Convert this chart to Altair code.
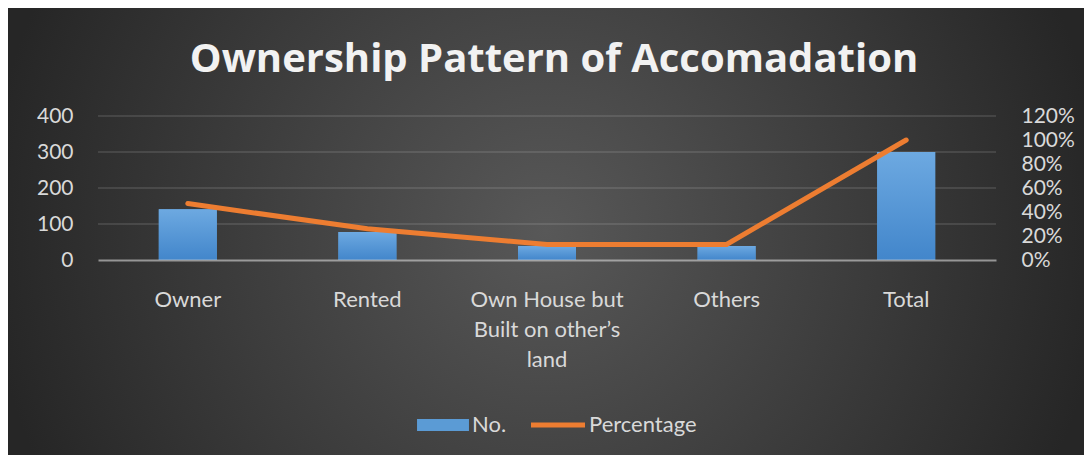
import altair as alt
import pandas as pd

categories = ["Owner", "Rented", "Own House but Built on other’s land", "Others", "Total"]
counts = [141, 78, 39, 39, 300]
percentages = [0.47, 0.26, 0.13, 0.13, 1.00]
count_ticks = [0, 100, 200, 300, 400]
grid_ticks = [100, 200, 300, 400]
pct_ticks = [0, 0.2, 0.4, 0.6, 0.8, 1.0, 1.2]
series_names = ["No.", "Percentage"]

df = pd.DataFrame({"category": categories, "count": counts, "pct": percentages})
df["bar_series"] = series_names[0]
df["line_series"] = series_names[1]
grid_df = pd.DataFrame({"v": grid_ticks})

W, H = 898, 144
PAD = {"left": 90, "top": 108, "right": 88, "bottom": 195}

LABEL = "#d9d9d9"
FONT = "Lato"

x_enc = alt.X(
    "category:N",
    sort=categories,
    scale=alt.Scale(paddingInner=0, paddingOuter=0),
    axis=alt.Axis(
        title=None, labelAngle=0, ticks=False, domain=True,
        domainColor="rgba(217,217,217,0.6)", domainWidth=2,
        labelFontSize=22, labelColor=LABEL, labelFont=FONT,
        labelPadding=29, labelLineHeight=30, labelLimit=400, zindex=1,
        labelExpr="datum.value == 'Own House but Built on other’s land' ? ['Own House but', 'Built on other’s', 'land'] : datum.label",
    ),
)

bg = alt.Chart(alt.Data(values=[{"bg": 1}])).mark_rect(
    fill={
        "gradient": "radial",
        "x1": 0.5, "y1": 0.5, "r1": 0,
        "x2": 0.5, "y2": 0.5, "r2": 0.52,
        "stops": [
            {"offset": 0, "color": "#585858"},
            {"offset": 1, "color": "#262626"},
        ],
    }
).encode(
    x=alt.value(-PAD["left"]), x2=alt.value(W + PAD["right"]),
    y=alt.value(-PAD["top"]), y2=alt.value(H + PAD["bottom"]),
)

y_count_scale = alt.Scale(domain=[0, 400])
left_axis = alt.Axis(
    title=None, orient="left", values=count_ticks, grid=False,
    ticks=False, domain=False, labelFontSize=21, labelColor=LABEL,
    labelFont=FONT, labelPadding=25, zindex=1,
)

grid = alt.Chart(grid_df).mark_rule(
    color="rgba(217,217,217,0.18)", strokeWidth=1.5
).encode(
    y=alt.Y("v:Q", scale=y_count_scale, axis=left_axis)
)

bars_legend = alt.Chart(df).mark_bar(size=58).encode(
    x=x_enc,
    y=alt.Y("count:Q", scale=y_count_scale, axis=left_axis),
    fill=alt.Fill(
        "bar_series:N",
        scale=alt.Scale(domain=[series_names[0]], range=["#5b9bd5"]),
        legend=alt.Legend(
            title=None, orient="none", legendX=334, legendY=298, padding=0,
            symbolType="M-4.33,-1H4.33V1H-4.33Z", symbolSize=144,
            symbolStrokeWidth=0, labelOffset=18, labelFontSize=22,
            labelColor=LABEL, labelFont=FONT, zindex=1,
        ),
    ),
)

bars_grad = alt.Chart(df).mark_bar(
    size=58,
    fill={
        "gradient": "linear", "x1": 0, "y1": 0, "x2": 0, "y2": 1,
        "stops": [
            {"offset": 0, "color": "#6da9e1"},
            {"offset": 1, "color": "#4286cb"},
        ],
    },
).encode(
    x=x_enc,
    y=alt.Y("count:Q", scale=y_count_scale, axis=left_axis),
)

left = alt.layer(grid, bars_legend, bars_grad)

line = alt.Chart(df).mark_line(strokeWidth=5, strokeCap="round").encode(
    x=x_enc,
    y=alt.Y(
        "pct:Q", scale=alt.Scale(domain=[0, 1.2]),
        axis=alt.Axis(
            title=None, orient="right", values=pct_ticks, format=".0%",
            grid=False, ticks=False, domain=False, labelFontSize=21,
            labelColor=LABEL, labelFont=FONT, labelPadding=25,
            labelOverlap=False, labelAlign="left", zindex=1,
        ),
    ),
    stroke=alt.Stroke(
        "line_series:N",
        scale=alt.Scale(domain=[series_names[1]], range=["#ed7d31"]),
        legend=alt.Legend(
            title=None, orient="none", legendX=449, legendY=298, padding=0,
            symbolType="M-4.5,0H4.5", symbolSize=144, symbolStrokeWidth=5,
            labelOffset=20, labelFontSize=22, labelColor=LABEL, labelFont=FONT,
            zindex=1,
        ),
    ),
)

chart = alt.layer(bg, left, line).resolve_scale(
    y="independent"
).properties(
    width=W,
    height=H,
    padding=PAD,
    autosize=alt.AutoSizeParams(type="none"),
    background="#262626",
    title=alt.TitleParams(
        "Ownership Pattern of Accomadation",
        font="Open Sans", fontSize=40, fontWeight="bold", color="#f2f2f2",
        anchor="middle", offset=-72, dx=7, frame="group", zindex=1,
    ),
).configure_view(stroke=None)

chart.save("out.html", embed_options={"renderer": "svg", "actions": False})
